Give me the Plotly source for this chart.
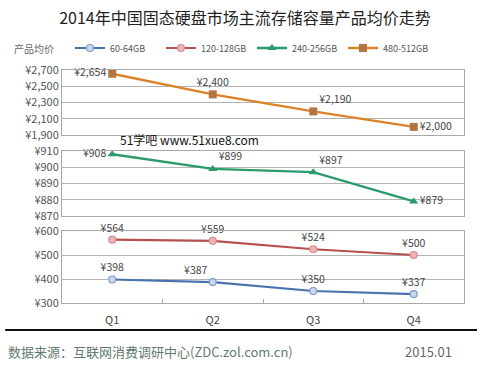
import plotly.graph_objects as go

quarters = ["Q1", "Q2", "Q3", "Q4"]
s60 = [398, 387, 350, 337]
s120 = [564, 559, 524, 500]
s240 = [908, 899, 897, 879]
s480 = [2654, 2400, 2190, 2000]

ticks_top = [1900, 2100, 2300, 2500, 2700]
ticks_mid = [870, 880, 890, 900, 910]
ticks_bot = [300, 400, 500, 600]

def fmt(v):
    return "¥" + format(v, ",")

FONT = "Noto Sans CJK SC"
LBL = dict(size=10.5, color="#444", family=FONT)
fig = go.Figure()

fig.add_trace(go.Scatter(x=quarters, y=s60, name="60-64GB", mode="lines+markers+text",
    line=dict(color="#4a72ad", width=2.2),
    marker=dict(symbol="circle", size=7, color="#c9d7ec", line=dict(color="#7d9cc9", width=1.2)),
    text=[fmt(v) for v in s60], textposition=["top center", "top left", "top center", "top center"],
    textfont=LBL, cliponaxis=False, xaxis="x3", yaxis="y3"))
fig.add_trace(go.Scatter(x=quarters, y=s120, name="120-128GB", mode="lines+markers+text",
    line=dict(color="#b5504f", width=2.2),
    marker=dict(symbol="circle", size=7, color="#eab5b4", line=dict(color="#d98c8b", width=1.2)),
    text=[fmt(v) for v in s120], textposition="top center",
    textfont=LBL, cliponaxis=False, xaxis="x3", yaxis="y3"))
fig.add_trace(go.Scatter(x=quarters, y=s240, name="240-256GB", mode="lines+markers+text",
    line=dict(color="#2c9a6b", width=2.4),
    marker=dict(symbol="triangle-up", size=8, color="#2c9a6b"),
    text=[fmt(v) for v in s240], textposition=["middle left", "top right", "top right", "middle right"],
    textfont=LBL, cliponaxis=False, xaxis="x2", yaxis="y2"))
fig.add_trace(go.Scatter(x=quarters, y=s480, name="480-512GB", mode="lines+markers+text",
    line=dict(color="#dc8228", width=2.4),
    marker=dict(symbol="square", size=8, color="#b57540"),
    text=[fmt(v) for v in s480], textposition=["middle left", "top center", "top right", "middle right"],
    textfont=LBL, cliponaxis=False, xaxis="x", yaxis="y"))

def yax(dom, rng, ticks, anchor):
    return dict(domain=dom, range=rng, tickvals=ticks, ticktext=[fmt(t) for t in ticks],
                showgrid=True, gridcolor="#b5b5b5", gridwidth=1, zeroline=False,
                showline=True, linecolor="#a8a8a8", mirror=True, anchor=anchor,
                tickfont=dict(size=11, color="#555", family=FONT), ticks="")

def xax(anchor, labels):
    d = dict(domain=[0, 1], range=[-0.5, 3.5], type="category", anchor=anchor,
             showline=True, linecolor="#a8a8a8", mirror=True, showgrid=False,
             showticklabels=labels, tickfont=dict(size=11, color="#444", family=FONT))
    if labels:
        d.update(ticks="inside", tickson="boundaries", ticklen=4, tickcolor="#a8a8a8",
                 ticklabelstandoff=7)
    else:
        d.update(ticks="", matches="x3")
    return d

fig.update_layout(
    width=490, height=369,
    margin=dict(l=62, r=26, t=70, b=66),
    paper_bgcolor="white", plot_bgcolor="white",
    font=dict(family=FONT, color="#444"),
    title=dict(text="2014年中国固态硬盘市场主流存储容量产品均价走势", x=0.5, xanchor="center",
               y=1 - 18 / 369, yanchor="middle", font=dict(size=16, color="#222", family=FONT)),
    showlegend=True,
    legend=dict(orientation="h", x=(70 - 62) / 403, xanchor="left", y=1 + 22 / 233, yanchor="middle",
                font=dict(size=9, color="#555", family=FONT), entrywidth=46, entrywidthmode="pixels",
                bgcolor="rgba(0,0,0,0)"),
    xaxis=xax("y", False),
    xaxis2=xax("y2", False),
    xaxis3=xax("y3", True),
    yaxis=yax([1 - 65 / 233, 1], [1900, 2700], ticks_top, "x"),
    yaxis2=yax([1 - 146 / 233, 1 - 81 / 233], [870, 910], ticks_mid, "x2"),
    yaxis3=yax([0, 1 - 161 / 233], [300, 600], ticks_bot, "x3"),
)

fig.add_annotation(text="产品均价", xref="paper", yref="paper", x=(12 - 62) / 403, xanchor="left",
                   y=1 + 22 / 233, yanchor="middle", showarrow=False,
                   font=dict(size=10, color="#666", family=FONT))
fig.add_annotation(text="51学吧 www.51xue8.com", xref="paper", yref="paper",
                   x=(190 - 62) / 403, xanchor="center", y=(303 - 139) / 233, yanchor="middle",
                   showarrow=False, font=dict(size=12, color="#111", family=FONT))
fig.add_shape(type="line", xref="paper", yref="paper", x0=(5 - 62) / 403, x1=(478 - 62) / 403,
              y0=(303 - 330) / 233, y1=(303 - 330) / 233, layer="above",
              line=dict(color="#111", width=2))
fig.add_annotation(text="数据来源：互联网消费调研中心(ZDC.zol.com.cn)", xref="paper", yref="paper",
                   x=(6 - 62) / 403, xanchor="left", y=(303 - 351) / 233, yanchor="middle",
                   showarrow=False, font=dict(size=13, color="#5f7a6e", family=FONT))
fig.add_annotation(text="2015.01", xref="paper", yref="paper",
                   x=(455 - 62) / 403, xanchor="right", y=(303 - 351) / 233, yanchor="middle",
                   showarrow=False, font=dict(size=13, color="#666", family=FONT))

fig.write_html("out.html", config={"displayModeBar": False},
               post_script="document.body.style.margin='0';")
